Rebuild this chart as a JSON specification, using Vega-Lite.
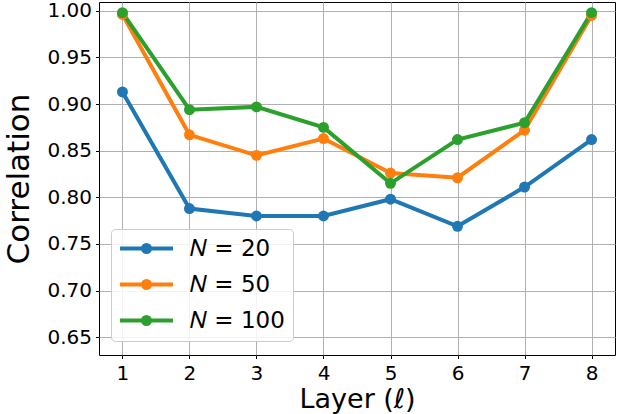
{
  "$schema": "https://vega.github.io/schema/vega-lite/v6.json",
  "width": 516,
  "height": 353,
  "autosize": {"type": "none"},
  "padding": {"left": 99, "top": 2, "right": 9, "bottom": 59},
  "config": {
    "font": "DejaVu Sans",
    "view": {"stroke": "#000000", "strokeWidth": 1},
    "axis": {
      "domain": false,
      "grid": true,
      "gridColor": "#b0b0b0",
      "gridWidth": 1,
      "tickColor": "#000000",
      "tickSize": 3.5,
      "labelColor": "#000000",
      "labelFontSize": 20,
      "titleColor": "#000000",
      "titleFontWeight": "normal"
    }
  },
  "data": {
    "values": [
      {"layer": 1, "corr": 0.913, "series": "𝑁 = 20"},
      {"layer": 2, "corr": 0.788, "series": "𝑁 = 20"},
      {"layer": 3, "corr": 0.780, "series": "𝑁 = 20"},
      {"layer": 4, "corr": 0.780, "series": "𝑁 = 20"},
      {"layer": 5, "corr": 0.798, "series": "𝑁 = 20"},
      {"layer": 6, "corr": 0.769, "series": "𝑁 = 20"},
      {"layer": 7, "corr": 0.811, "series": "𝑁 = 20"},
      {"layer": 8, "corr": 0.862, "series": "𝑁 = 20"},
      {"layer": 1, "corr": 0.996, "series": "𝑁 = 50"},
      {"layer": 2, "corr": 0.867, "series": "𝑁 = 50"},
      {"layer": 3, "corr": 0.845, "series": "𝑁 = 50"},
      {"layer": 4, "corr": 0.863, "series": "𝑁 = 50"},
      {"layer": 5, "corr": 0.826, "series": "𝑁 = 50"},
      {"layer": 6, "corr": 0.821, "series": "𝑁 = 50"},
      {"layer": 7, "corr": 0.872, "series": "𝑁 = 50"},
      {"layer": 8, "corr": 0.995, "series": "𝑁 = 50"},
      {"layer": 1, "corr": 0.998, "series": "𝑁 = 100"},
      {"layer": 2, "corr": 0.894, "series": "𝑁 = 100"},
      {"layer": 3, "corr": 0.897, "series": "𝑁 = 100"},
      {"layer": 4, "corr": 0.875, "series": "𝑁 = 100"},
      {"layer": 5, "corr": 0.815, "series": "𝑁 = 100"},
      {"layer": 6, "corr": 0.862, "series": "𝑁 = 100"},
      {"layer": 7, "corr": 0.880, "series": "𝑁 = 100"},
      {"layer": 8, "corr": 0.998, "series": "𝑁 = 100"}
    ]
  },
  "encoding": {
    "x": {
      "field": "layer",
      "type": "quantitative",
      "scale": {"domain": [0.65, 8.35], "nice": false, "zero": false},
      "axis": {"values": [1, 2, 3, 4, 5, 6, 7, 8], "format": "d", "labelPadding": 5, "title": "Layer (ℓ)", "titleFontSize": 27, "titlePadding": 3}
    },
    "y": {
      "field": "corr",
      "type": "quantitative",
      "scale": {"domain": [0.631, 1.0094], "nice": false, "zero": false},
      "axis": {"values": [0.65, 0.7, 0.75, 0.8, 0.85, 0.9, 0.95, 1.0], "format": ".2f", "labelPadding": 4, "title": "Correlation", "titleFontSize": 31, "titlePadding": 11}
    },
    "color": {
      "field": "series",
      "type": "nominal",
      "sort": ["𝑁 = 20", "𝑁 = 50", "𝑁 = 100"],
      "scale": {"domain": ["𝑁 = 20", "𝑁 = 50", "𝑁 = 100"], "range": ["#1f77b4", "#ff7f0e", "#2ca02c"]},
      "legend": {
        "orient": "none",
        "legendX": 12,
        "legendY": 227,
        "title": null,
        "padding": 8,
        "fillColor": "rgba(255,255,255,0.85)",
        "strokeColor": "#cccccc",
        "cornerRadius": 4,
        "labelFontSize": 23,
        "labelColor": "#000000",
        "labelOffset": 32,
        "rowPadding": 11,
        "symbolType": "M-3,0L3,0M-0.4,0A0.4,0.4 0 1,1 0.4,0A0.4,0.4 0 1,1 -0.4,0Z",
        "symbolSize": 312,
        "symbolOffset": 16,
        "symbolStrokeWidth": 4,
        "encode": {
          "symbols": {
            "update": {
              "stroke": {"scale": "color", "field": "value"},
              "fill": {"scale": "color", "field": "value"},
              "strokeWidth": {"value": 4},
              "opacity": {"value": 1}
            }
          }
        }
      }
    }
  },
  "layer": [
    {"mark": {"type": "line", "strokeWidth": 4}},
    {"mark": {"type": "point", "filled": true, "size": 120, "opacity": 1}}
  ]
}
